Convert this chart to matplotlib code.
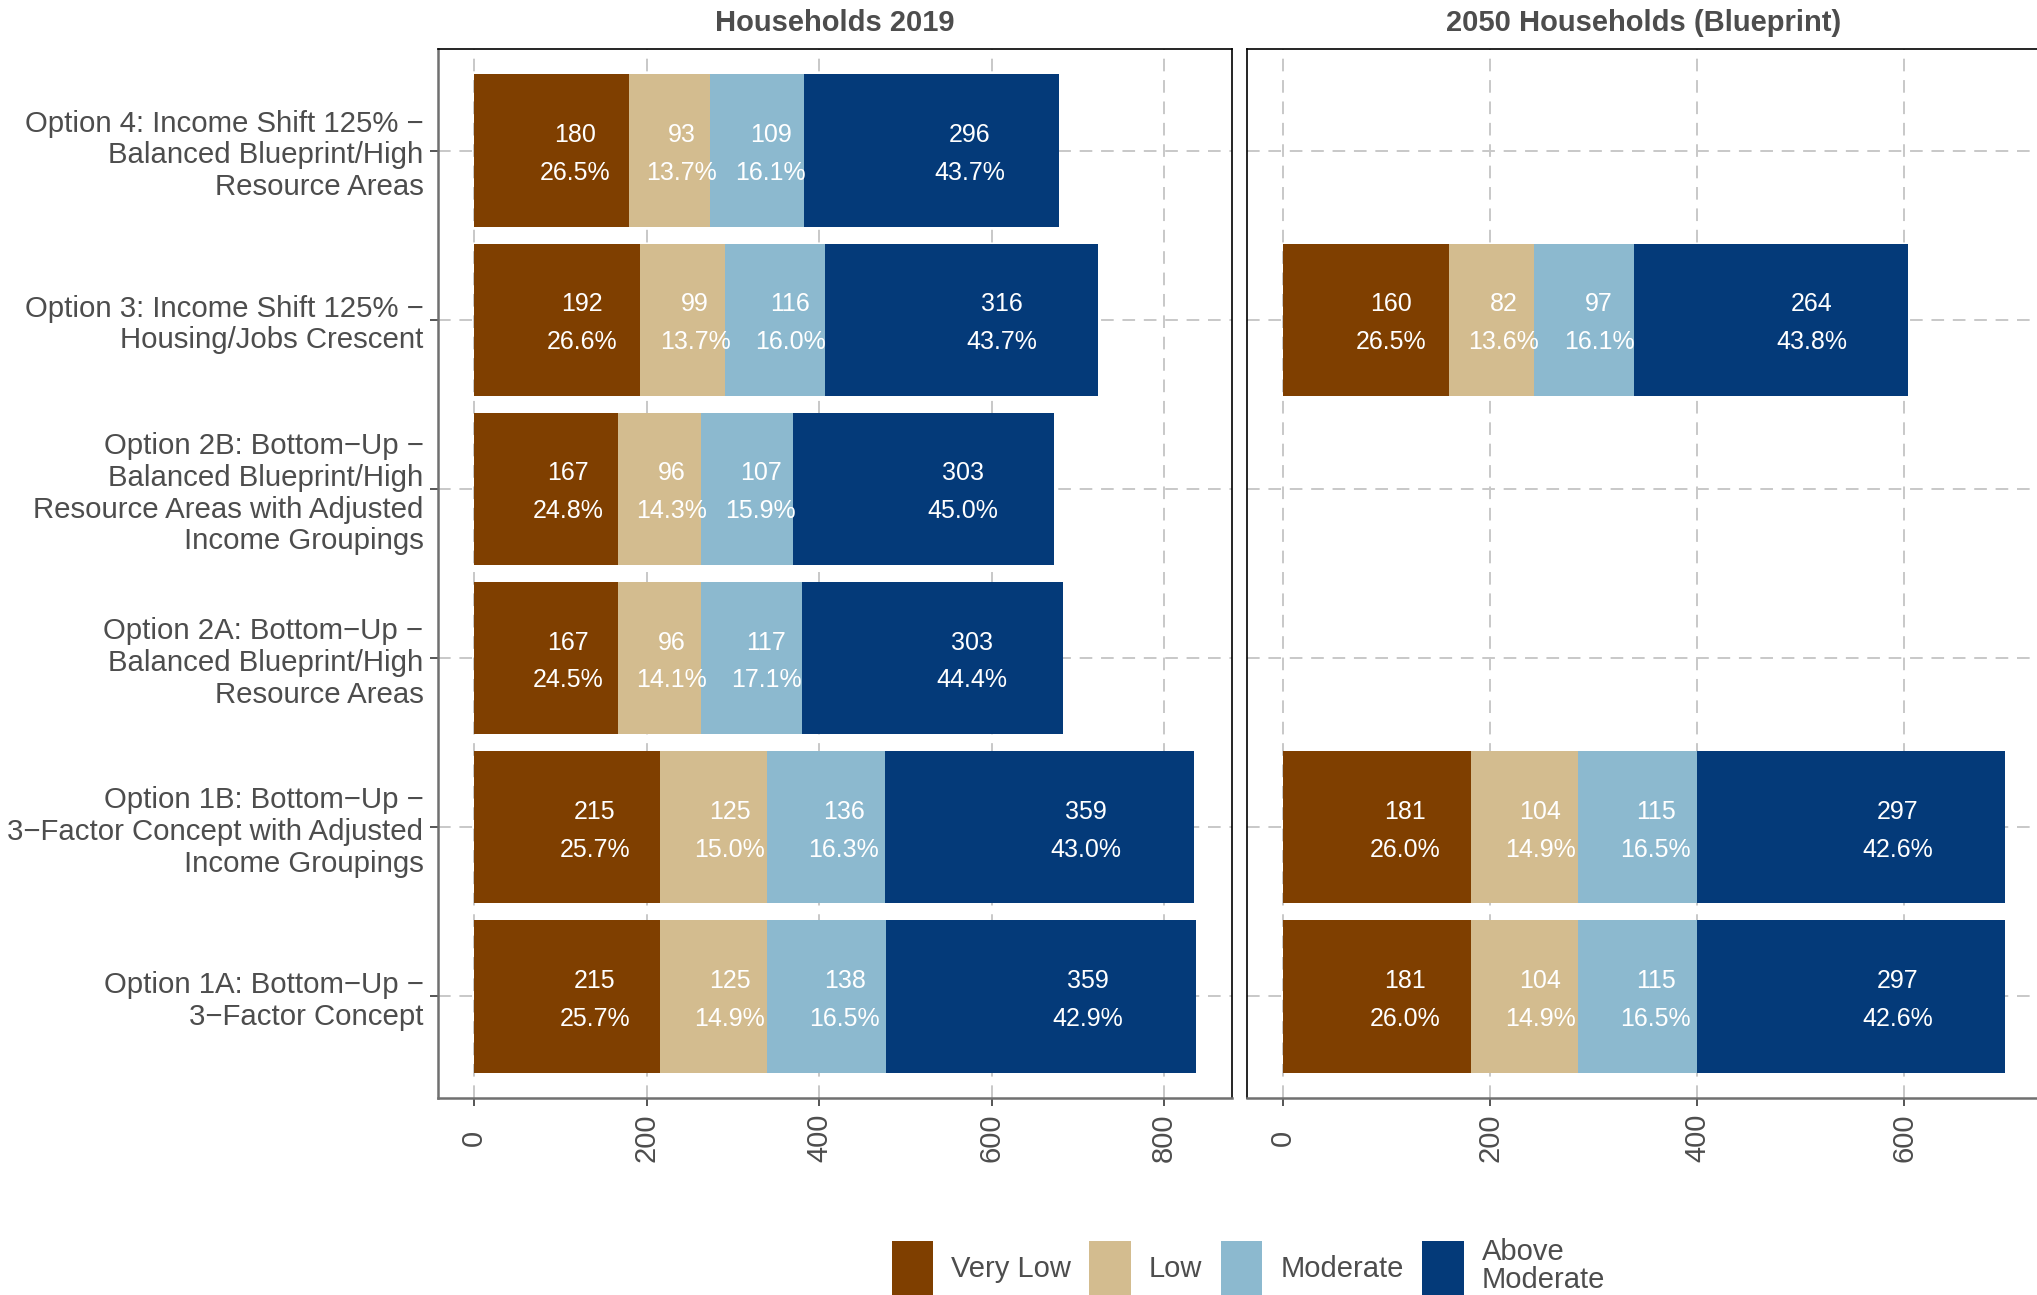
import matplotlib
matplotlib.use("Agg")
from matplotlib import pyplot as plt
from matplotlib.patches import Patch

plt.rcParams['font.family'] = ['Liberation Sans', 'DejaVu Sans']

# categories, bottom to top
options = [
    "Option 1A: Bottom\u2212Up \u2212\n3\u2212Factor Concept",
    "Option 1B: Bottom\u2212Up \u2212\n3\u2212Factor Concept with Adjusted\nIncome Groupings",
    "Option 2A: Bottom\u2212Up \u2212\nBalanced Blueprint/High\nResource Areas",
    "Option 2B: Bottom\u2212Up \u2212\nBalanced Blueprint/High\nResource Areas with Adjusted\nIncome Groupings",
    "Option 3: Income Shift 125% \u2212\nHousing/Jobs Crescent",
    "Option 4: Income Shift 125% \u2212\nBalanced Blueprint/High\nResource Areas",
]
groups = ["Very Low", "Low", "Moderate", "Above\nModerate"]
colors = ["#7F3F00", "#D3BC8F", "#8CB9CF", "#043A79"]

# Households 2019 : rows follow options order, columns follow groups
hh_2019 = [
    [215, 125, 138, 359],
    [215, 125, 136, 359],
    [167, 96, 117, 303],
    [167, 96, 107, 303],
    [192, 99, 116, 316],
    [180, 93, 109, 296],
]
pct_2019 = [
    ["25.7%", "14.9%", "16.5%", "42.9%"],
    ["25.7%", "15.0%", "16.3%", "43.0%"],
    ["24.5%", "14.1%", "17.1%", "44.4%"],
    ["24.8%", "14.3%", "15.9%", "45.0%"],
    ["26.6%", "13.7%", "16.0%", "43.7%"],
    ["26.5%", "13.7%", "16.1%", "43.7%"],
]

# 2050 Households (Blueprint) : None where there is no bar
hh_2050 = [
    [181, 104, 115, 297],
    [181, 104, 115, 297],
    None,
    None,
    [160, 82, 97, 264],
    None,
]
pct_2050 = [
    ["26.0%", "14.9%", "16.5%", "42.6%"],
    ["26.0%", "14.9%", "16.5%", "42.6%"],
    None,
    None,
    ["26.5%", "13.6%", "16.1%", "43.8%"],
    None,
]

TXT = "#4D4D4D"
W, H = 2037, 1295
fig = plt.figure(figsize=(W / 100, H / 100), dpi=100)

pw = 794
ax1 = fig.add_axes([438 / W, (H - 1098) / H, pw / W, (1098 - 49) / H])
ax2 = fig.add_axes([1247 / W, (H - 1098) / H, pw / W, (1098 - 49) / H])


def draw_panel(ax, data, pcts, title, ticks, show_y):
    ys = list(range(1, len(options) + 1))
    totals = [sum(r) for r in data if r is not None]
    xmax = max(totals)
    for i, row in enumerate(data):
        if row is None:
            continue
        left = 0
        for j, v in enumerate(row):
            ax.barh(ys[i], v, left=left, height=0.9, color=colors[j],
                    zorder=2)
            xl = left + 0.65 * v
            ax.text(xl, ys[i] + 0.092, str(v), color="white", fontsize=18,
                    ha="center", va="center", zorder=3)
            ax.text(xl, ys[i] - 0.132, pcts[i][j], color="white", fontsize=18,
                    ha="center", va="center", zorder=3)
            left += v
    ax.set_xlim(-0.05 * xmax, 1.05 * xmax)
    ax.set_ylim(0.4, len(options) + 0.6)
    ax.set_xticks(ticks)
    ax.set_xticklabels([str(t) for t in ticks], rotation=90, fontsize=21,
                       color=TXT, va="center")
    ax.set_yticks(ys)
    if show_y:
        ax.set_yticklabels(options, fontsize=21.2, color=TXT, linespacing=1.17)
        ax.tick_params(axis="y", length=5.5, width=1.4, color="#555555",
                       pad=5)
    else:
        ax.set_yticklabels([])
        ax.tick_params(axis="y", length=0)
    ax.tick_params(axis="x", length=5.5, width=1.4, color="#555555", pad=23)
    ax.grid(True, color="#C8C8C8", linewidth=1.4, linestyle=(0, (6.5, 4.5)),
            zorder=0)
    ax.set_axisbelow(True)
    for s in ["top", "right"]:
        ax.spines[s].set_color("black")
        ax.spines[s].set_linewidth(1.2)
    ax.spines["bottom"].set_color("#707070")
    ax.spines["bottom"].set_linewidth(1.8)
    if show_y:
        ax.spines["left"].set_color("#707070")
        ax.spines["left"].set_linewidth(1.8)
    else:
        ax.spines["left"].set_color("black")
        ax.spines["left"].set_linewidth(1.2)
    ax.set_title(title, fontsize=21, fontweight="bold", color=TXT, pad=13)


draw_panel(ax1, hh_2019, pct_2019, "Households 2019", [0, 200, 400, 600, 800], True)
draw_panel(ax2, hh_2050, pct_2050, "2050 Households (Blueprint)", [0, 200, 400, 600], False)

handles = [Patch(facecolor=c, edgecolor="none") for c in colors]
fig.legend(handles, groups, loc="center", bbox_to_anchor=(0.6128, 0.0216),
           ncol=4, frameon=False, fontsize=21, handlelength=1.43,
           handleheight=2.5, handletextpad=0.62, columnspacing=0.62,
           labelcolor=TXT, borderpad=0, borderaxespad=0)
for t in fig.legends[0].get_texts():
    t.set_linespacing(1.0)

fig.savefig("out.png", dpi=100)
plt.close()
